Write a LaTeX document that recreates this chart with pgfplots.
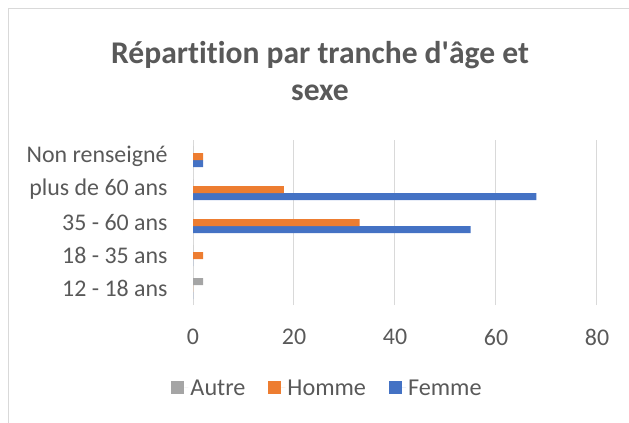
\documentclass[border=0pt]{standalone}
\usepackage{pgfplots}
\pgfplotsset{compat=1.18}
\usepackage{fontspec}
\setmainfont{Carlito}
\newfontfamily\titlefont{Carlito}[Ligatures=NoCommon]
\definecolor{txt}{HTML}{595959}
\definecolor{grd}{HTML}{D9D9D9}
\definecolor{cfemme}{HTML}{4472C4}
\definecolor{chomme}{HTML}{ED7D31}
\definecolor{cautre}{HTML}{A5A5A5}
\begin{document}
\begin{tikzpicture}
\useasboundingbox (0,0) rectangle (629bp,423bp);
% chart frame (partly cut off)
\draw[grd, line width=1bp] (8bp,0) -- (8bp,414bp) -- (629bp,414bp);
\node[text=txt, align=center, font=\titlefont\bfseries\fontsize{31.7}{38}\selectfont]
  at (320bp,352bp) {Répartition par tranche d'âge et\\sexe};
\begin{axis}[
    at={(193bp,118bp)}, anchor=south west,
    scale only axis, width=404bp, height=165bp,
    xbar=0pt, bar width=7bp,
    xmin=0, xmax=80, xtick={0,20,40,60,80},
    ymin=-0.5, ymax=4.5, ytick={0,1,2,3,4},
    yticklabels={12 - 18 ans, 18 - 35 ans, 35 - 60 ans, plus de 60 ans, Non renseigné},
    enlargelimits=false,
    axis line style={draw=none},
    major tick style={draw=none},
    xmajorgrids, grid style={grd, line width=1bp},
    /pgf/number format/assume math mode=true,
    ticklabel style={text=txt, font=\fontsize{24}{29}\selectfont, inner sep=0pt},
    yticklabel style={xshift=-21bp},
    xticklabel style={yshift=-24bp},
    legend columns=-1, reverse legend,
    legend style={at={(0.333,-0.503)}, anchor=center, draw=none, fill=none,
      font=\fontsize{24.3}{29}\selectfont, text=txt,
      /tikz/every even column/.append style={column sep=21bp}},
    legend image code/.code={\fill[#1] (0bp,-6.5bp) rectangle (13bp,6.5bp);
      \path (13bp,0) -- (17bp,0);},
  ]
\addplot[fill=cfemme, draw=none] coordinates {(0,0) (0,1) (55,2) (68,3) (2,4)};
\addlegendentry{Femme}
\addplot[fill=chomme, draw=none] coordinates {(0,0) (2,1) (33,2) (18,3) (2,4)};
\addlegendentry{Homme}
\addplot[fill=cautre, draw=none] coordinates {(2,0) (0,1) (0,2) (0,3) (0,4)};
\addlegendentry{Autre}
\end{axis}
\end{tikzpicture}
\end{document}
